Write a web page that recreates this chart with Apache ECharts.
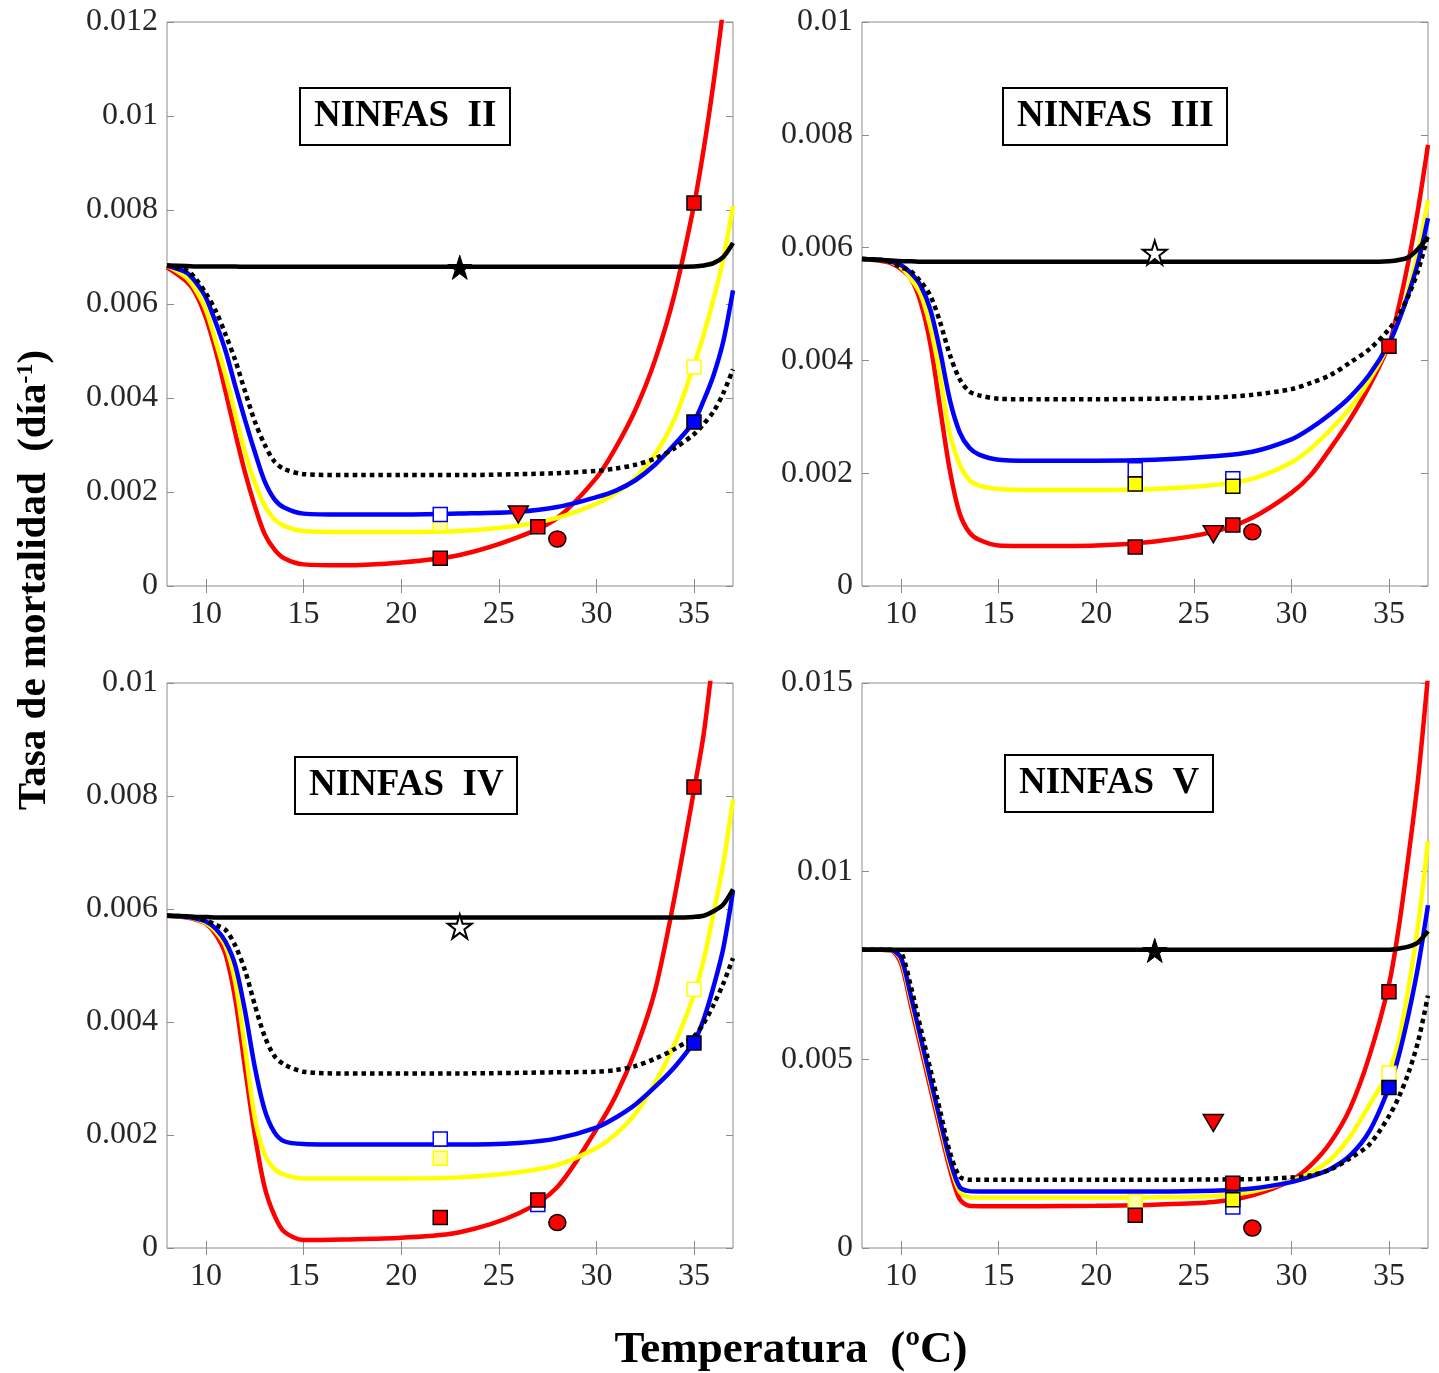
<!DOCTYPE html>
<html>
<head>
<meta charset="utf-8">
<script src="https://cdn.jsdelivr.net/npm/echarts@6/dist/echarts.min.js"></script>
<style>
  html, body { margin: 0; padding: 0; background: #fff; }
  #chart { width: 1439px; height: 1373px; }
</style>
</head>
<body>
<div id="chart"></div>
<script>
// ---------------- DATA (mortality rate, values in units of 1e-3 día^-1) ----------------
const TEMP = [8, 9, 9.5, 10, 10.5, 11, 11.5, 12, 12.5, 13, 13.5, 14, 15, 17, 20, 23, 26, 28, 30, 31, 32, 33, 34, 35, 35.5, 36, 36.5, 37];
const X_TICKS = [10, 15, 20, 25, 30, 35];

// NINFAS II
const n2_black  = [6.82,6.81,6.80,6.80,6.80,6.80,6.80,6.79,6.79,6.79,6.79,6.79,6.79,6.79,6.79,6.79,6.79,6.79,6.79,6.79,6.79,6.79,6.79,6.80,6.82,6.87,7.00,7.30];
const n2_red    = [6.78,6.48,6.20,5.70,5.00,4.14,3.25,2.41,1.70,1.11,0.78,0.59,0.46,0.44,0.50,0.66,1.04,1.45,2.30,2.95,3.75,4.80,6.20,8.10,9.30,10.70,12.30,14.20];
const n2_blue   = [6.82,6.67,6.45,6.13,5.60,5.00,4.25,3.53,2.85,2.23,1.85,1.67,1.54,1.52,1.52,1.54,1.58,1.68,1.89,2.03,2.25,2.58,3.01,3.50,3.95,4.48,5.20,6.29];
const n2_yellow = [6.82,6.56,6.28,5.87,5.20,4.48,3.65,2.84,2.20,1.71,1.42,1.28,1.17,1.15,1.15,1.17,1.28,1.45,1.75,1.98,2.30,2.80,3.55,4.70,5.35,6.10,6.95,8.08];
const n2_dotted = [6.82,6.72,6.52,6.22,5.85,5.35,4.80,4.14,3.50,3.01,2.65,2.49,2.38,2.36,2.36,2.36,2.38,2.40,2.45,2.50,2.58,2.71,2.93,3.23,3.45,3.71,4.10,4.61];
const n2_star = [[23, 6.78]];
const n2_tri = [[26, 1.52]];
const n2_circle = [[28, 1.00]];
const n2_redSq = [[22, 0.59], [27, 1.26], [35, 8.15]];
const n2_blueOpen = [[22, 1.52]];
const n2_yellowPale = [[22, 1.32]];
const n2_yellowFill = [];
const n2_yellowOpen = [[35, 4.66]];
const n2_blueFill = [[35, 3.49]];

// NINFAS III
const n3_black  = [5.80,5.78,5.77,5.76,5.76,5.75,5.75,5.75,5.75,5.75,5.75,5.75,5.75,5.75,5.75,5.75,5.75,5.75,5.75,5.75,5.75,5.75,5.75,5.76,5.78,5.83,5.98,6.19];
const n3_red    = [5.80,5.76,5.72,5.62,5.45,5.04,4.30,3.16,2.05,1.29,0.95,0.82,0.72,0.71,0.72,0.79,0.96,1.21,1.65,1.97,2.44,2.95,3.55,4.28,4.95,5.76,6.70,7.82];
const n3_blue   = [5.80,5.78,5.75,5.69,5.55,5.33,4.90,4.17,3.30,2.73,2.45,2.33,2.24,2.22,2.22,2.24,2.30,2.38,2.60,2.80,3.05,3.35,3.75,4.30,4.70,5.18,5.75,6.52];
const n3_yellow = [5.80,5.78,5.74,5.65,5.45,5.18,4.60,3.74,2.70,2.15,1.88,1.78,1.72,1.70,1.70,1.72,1.79,1.90,2.19,2.44,2.77,3.15,3.65,4.28,4.72,5.26,5.95,6.84];
const n3_dotted = [5.80,5.78,5.74,5.65,5.58,5.40,5.15,4.68,4.10,3.67,3.45,3.38,3.32,3.31,3.31,3.32,3.34,3.39,3.49,3.60,3.74,3.96,4.20,4.55,4.80,5.15,5.60,6.23];
const n3_starOpen = [[23, 5.91]];
const n3_tri = [[26, 0.92]];
const n3_circle = [[28, 0.96]];
const n3_redSq = [[22, 0.69], [27, 1.08], [35, 4.25]];
const n3_blueOpen = [[22, 2.06], [27, 1.90]];
const n3_yellowFill = [[22, 1.81], [27, 1.77]];

// NINFAS IV
const n4_black  = [5.88,5.87,5.86,5.86,5.85,5.85,5.85,5.85,5.85,5.85,5.85,5.85,5.85,5.85,5.85,5.85,5.85,5.85,5.85,5.85,5.85,5.85,5.85,5.86,5.88,5.96,6.08,6.35];
const n4_red    = [5.88,5.85,5.81,5.74,5.55,5.20,4.40,3.18,2.00,1.08,0.58,0.29,0.14,0.15,0.18,0.28,0.61,1.08,2.10,2.70,3.50,4.55,6.20,8.10,9.10,10.50,11.90,13.50];
const n4_blue   = [5.88,5.86,5.83,5.78,5.65,5.42,5.00,4.19,3.20,2.45,2.05,1.89,1.84,1.83,1.83,1.83,1.86,1.94,2.13,2.31,2.54,2.85,3.20,3.65,4.05,4.62,5.30,6.32];
const n4_yellow = [5.88,5.86,5.82,5.75,5.60,5.34,4.70,3.54,2.30,1.66,1.40,1.30,1.23,1.23,1.23,1.25,1.34,1.47,1.77,2.02,2.38,2.92,3.60,4.48,5.10,5.92,6.80,7.94];
const n4_dotted = [5.88,5.87,5.84,5.80,5.72,5.63,5.35,4.91,4.30,3.75,3.40,3.25,3.12,3.09,3.09,3.09,3.10,3.11,3.12,3.15,3.22,3.35,3.52,3.75,3.98,4.30,4.68,5.13];
const n4_starOpen = [[23, 5.69]];
const n4_circle = [[28, 0.45]];
const n4_redSq = [[22, 0.54], [27, 0.85], [35, 8.16]];
const n4_blueOpen = [[22, 1.93], [27, 0.77]];
const n4_yellowPale = [[22, 1.59]];
const n4_yellowOpen = [[35, 4.58]];
const n4_blueFill = [[35, 3.63]];

// NINFAS V
const n5_black  = [7.92,7.92,7.92,7.92,7.92,7.92,7.92,7.92,7.92,7.92,7.92,7.92,7.92,7.92,7.92,7.92,7.92,7.92,7.92,7.92,7.92,7.92,7.92,7.92,7.95,8.00,8.12,8.41];
const n5_red    = [7.92,7.92,7.90,7.55,6.45,5.35,4.25,3.15,2.10,1.30,1.12,1.11,1.11,1.11,1.12,1.15,1.22,1.40,1.80,2.20,2.80,3.70,5.10,7.00,8.50,10.40,12.50,15.20];
const n5_blue   = [7.92,7.92,7.91,7.70,6.70,5.60,4.50,3.40,2.35,1.62,1.51,1.50,1.50,1.50,1.50,1.50,1.52,1.58,1.75,1.90,2.10,2.45,3.10,4.26,5.10,6.20,7.50,9.10];
const n5_yellow = [7.92,7.92,7.91,7.65,6.60,5.50,4.40,3.30,2.25,1.50,1.35,1.34,1.34,1.34,1.34,1.35,1.38,1.50,1.78,2.00,2.35,2.95,3.80,4.70,5.50,6.90,8.60,10.80];
const n5_dotted = [7.92,7.92,7.92,7.85,6.95,5.85,4.75,3.65,2.55,1.90,1.81,1.81,1.81,1.81,1.81,1.81,1.82,1.83,1.87,1.93,2.08,2.38,2.75,3.50,4.00,4.65,5.50,6.70];
const n5_star = [[23, 7.90]];
const n5_tri = [[26, 3.32]];
const n5_circle = [[28, 0.53]];
const n5_redSq = [[22, 0.87], [27, 1.72], [35, 6.80]];
const n5_blueOpen = [[27, 1.09]];
const n5_yellowPale = [[22, 1.23]];
const n5_yellowFill = [[27, 1.28]];
const n5_yellowOpen = [[35, 4.64]];
const n5_blueFill = [[35, 4.26]];

const PANEL_TITLES = ['NINFAS  II', 'NINFAS  III', 'NINFAS  IV', 'NINFAS  V'];
const Y_MAX = [0.012, 0.01, 0.01, 0.015];
const Y_STEP = [0.002, 0.002, 0.002, 0.005];

// ---------------- LAYOUT / STYLE ----------------
const GRIDS = [
  { left: 167, top: 22, width: 566, height: 564 },
  { left: 862, top: 22, width: 566, height: 564 },
  { left: 167, top: 683, width: 566, height: 565 },
  { left: 862, top: 683, width: 566, height: 565 }
];
const TITLE_POS = [
  { left: 300, top: 88 }, { left: 1003, top: 88 },
  { left: 295, top: 757 }, { left: 1005, top: 755 }
];
const SERIF = "'Liberation Serif', 'Times New Roman', serif";
const STAR = 'path://M50,0 L61.2,34.5 L97.6,34.5 L68.2,55.9 L79.4,90.5 L50,69.1 L20.6,90.5 L31.8,55.9 L2.4,34.5 L38.8,34.5 Z';
const RED = '#ff0000', YEL = '#ffff00', BLU = '#0000ff';

const panels = [
  { black: n2_black, red: n2_red, blue: n2_blue, yellow: n2_yellow, dotted: n2_dotted,
    star: n2_star, starOpen: [], tri: n2_tri, circle: n2_circle, redSq: n2_redSq, blueOpen: n2_blueOpen,
    yellowPale: n2_yellowPale, yellowFill: n2_yellowFill, yellowOpen: n2_yellowOpen, blueFill: n2_blueFill },
  { black: n3_black, red: n3_red, blue: n3_blue, yellow: n3_yellow, dotted: n3_dotted,
    star: [], starOpen: n3_starOpen, tri: n3_tri, circle: n3_circle, redSq: n3_redSq, blueOpen: n3_blueOpen,
    yellowPale: [], yellowFill: n3_yellowFill, yellowOpen: [], blueFill: [] },
  { black: n4_black, red: n4_red, blue: n4_blue, yellow: n4_yellow, dotted: n4_dotted,
    star: [], starOpen: n4_starOpen, tri: [], circle: n4_circle, redSq: n4_redSq, blueOpen: n4_blueOpen,
    yellowPale: n4_yellowPale, yellowFill: [], yellowOpen: n4_yellowOpen, blueFill: n4_blueFill },
  { black: n5_black, red: n5_red, blue: n5_blue, yellow: n5_yellow, dotted: n5_dotted,
    star: n5_star, starOpen: [], tri: n5_tri, circle: n5_circle, redSq: n5_redSq, blueOpen: n5_blueOpen,
    yellowPale: n5_yellowPale, yellowFill: n5_yellowFill, yellowOpen: n5_yellowOpen, blueFill: n5_blueFill }
];

const toCurve = vals => TEMP.map((t, k) => [t, vals[k] / 1000]);
const toPts = pts => pts.map(p => [p[0], p[1] / 1000]);

const grid = [], xAxis = [], yAxis = [], series = [], title = [];
const tickStyle = { color: '#8c8c8c', width: 1 };
const labelStyle = { fontFamily: SERIF, fontSize: 32, color: '#262626' };

panels.forEach((p, i) => {
  grid.push(Object.assign({ show: true, borderColor: '#8c8c8c', borderWidth: 1, backgroundColor: '#fff' }, GRIDS[i]));
  xAxis.push({ type: 'value', gridIndex: i, min: 8, max: 37, position: 'bottom',
    axisLine: { show: false }, splitLine: { show: false },
    axisTick: { show: true, inside: true, length: 7, lineStyle: tickStyle, customValues: X_TICKS },
    axisLabel: Object.assign({ margin: 13, customValues: X_TICKS }, labelStyle) });
  xAxis.push({ type: 'value', gridIndex: i, min: 8, max: 37, position: 'top',
    axisLine: { show: false }, splitLine: { show: false },
    axisTick: { show: true, inside: true, length: 7, lineStyle: tickStyle, customValues: X_TICKS },
    axisLabel: { show: false } });
  yAxis.push({ type: 'value', gridIndex: i, min: 0, max: Y_MAX[i], interval: Y_STEP[i], position: 'left',
    axisLine: { show: false }, splitLine: { show: false },
    axisTick: { show: true, inside: true, length: 7, lineStyle: tickStyle },
    axisLabel: Object.assign({ margin: 9, formatter: v => String(+v.toFixed(4)) }, labelStyle) });
  yAxis.push({ type: 'value', gridIndex: i, min: 0, max: Y_MAX[i], interval: Y_STEP[i], position: 'right',
    axisLine: { show: false }, splitLine: { show: false },
    axisTick: { show: true, inside: true, length: 7, lineStyle: tickStyle },
    axisLabel: { show: false } });

  title.push(Object.assign({
    text: PANEL_TITLES[i],
    textStyle: { fontFamily: SERIF, fontWeight: 'bold', fontSize: 37, color: '#000' },
    borderColor: '#000', borderWidth: 2, padding: [10, 14], backgroundColor: '#fff'
  }, TITLE_POS[i]));

  const ax = { xAxisIndex: 2 * i, yAxisIndex: 2 * i };
  const line = (data, color, dashed, z) => Object.assign({
    type: 'line', data: toCurve(data), showSymbol: false, smooth: 0.3, silent: true, clip: true, z: z,
    lineStyle: { color: color, width: 4.5, type: dashed ? [4.5, 4] : 'solid', cap: 'butt' }
  }, ax);
  series.push(line(p.red, RED, false, 2));
  series.push(line(p.yellow, YEL, false, 3));
  series.push(line(p.blue, BLU, false, 4));
  series.push(line(p.black, '#000', false, 5));
  series.push(line(p.dotted, '#000', true, 6));

  const sc = (data, symbol, size, color, border, bw, rot) => Object.assign({
    type: 'scatter', data: toPts(data), symbol: symbol, symbolSize: size, symbolRotate: rot || 0, silent: true, z: 10,
    itemStyle: { color: color, borderColor: border, borderWidth: bw, opacity: 1 }
  }, ax);
  series.push(sc(p.yellowPale, 'rect', 14, '#ffffa0', YEL, 1.5));
  series.push(sc(p.blueOpen, 'rect', 14, '#ffffff', BLU, 1.5));
  series.push(sc(p.yellowFill, 'rect', 14, YEL, '#000', 1.5));
  series.push(sc(p.yellowOpen, 'rect', 14, '#ffffff', YEL, 1.5));
  series.push(sc(p.blueFill, 'rect', 14, BLU, '#000', 1.5));
  series.push(sc(p.redSq, 'rect', 14, RED, '#000', 1.5));
  series.push(sc(p.tri, 'triangle', [20, 17], RED, '#000', 1.5, 180));
  series.push(sc(p.circle, 'circle', [17, 16], RED, '#000', 1.5));
  series.push(sc(p.star, STAR, 24, '#000', '#000', 1));
  series.push(sc(p.starOpen, STAR, 24, '#ffffff', '#000', 2));
});

const option = {
  animation: false,
  backgroundColor: '#fff',
  grid, xAxis, yAxis, series, title,
  graphic: [
    { type: 'text', x: 34, y: 580, rotation: Math.PI / 2, silent: true,
      style: { text: '{a|Tasa de mortalidad  (día}{s|-1}{a|)}', align: 'center', verticalAlign: 'middle',
        rich: {
          a: { fontFamily: SERIF, fontWeight: 'bold', fontSize: 41, fill: '#000' },
          s: { fontFamily: SERIF, fontWeight: 'bold', fontSize: 24, fill: '#000', verticalAlign: 'top' }
        } } },
    { type: 'text', x: 791, y: 1350, silent: true,
      style: { text: 'Temperatura  (ºC)', align: 'center', verticalAlign: 'middle',
        fontFamily: SERIF, fontWeight: 'bold', fontSize: 45, fill: '#000' } }
  ]
};

const chart = echarts.init(document.getElementById('chart'), null, { renderer: 'canvas' });
chart.setOption(option);
</script>
</body>
</html>
